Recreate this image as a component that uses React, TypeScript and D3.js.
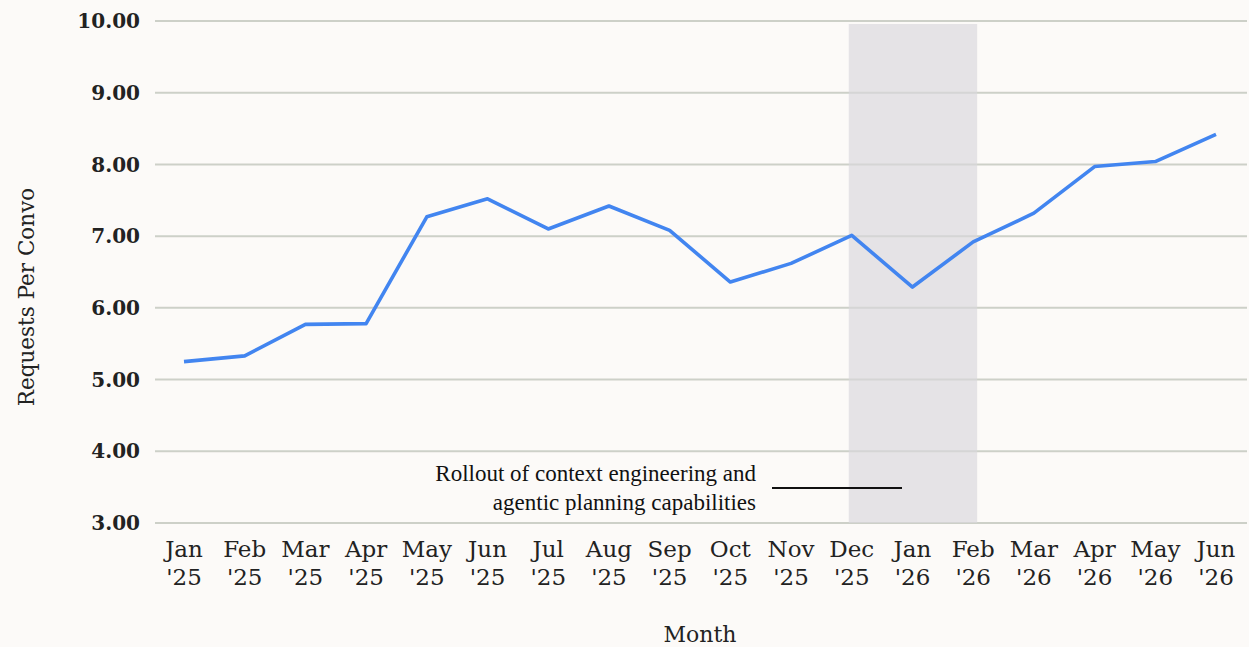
import React from "react";
import * as d3 from "d3";

const months = ["Jan", "Feb", "Mar", "Apr", "May", "Jun", "Jul", "Aug", "Sep", "Oct", "Nov", "Dec", "Jan", "Feb", "Mar", "Apr", "May", "Jun"];
const years = ["'25", "'25", "'25", "'25", "'25", "'25", "'25", "'25", "'25", "'25", "'25", "'25", "'26", "'26", "'26", "'26", "'26", "'26"];
const values = [5.25, 5.33, 5.77, 5.78, 7.27, 7.52, 7.1, 7.42, 7.08, 6.36, 6.62, 7.01, 6.29, 6.92, 7.32, 7.97, 8.04, 8.42];
const yTicks = [3, 4, 5, 6, 7, 8, 9, 10];
const shadeStart = 11;
const shadeEnd = 13;
const annotationLines = ["Rollout of context engineering and", "agentic planning capabilities"];

const W = 1249;
const H = 647;
const FONT = "'DejaVu Serif', 'Liberation Serif', serif";

export default function App() {
  const idx = d3.range(months.length);
  const x = d3.scalePoint<number>().domain(idx).range([184, 1216]);
  const y = d3.scaleLinear().domain([3, 10]).range([523, 21]);
  const line = d3
    .line<number>()
    .x((_, i) => x(i) as number)
    .y((d) => y(d));
  const sx0 = (x(shadeStart) as number) - 3;
  const sx1 = (x(shadeEnd) as number) + 4;

  return (
    <svg
      width={W}
      height={H}
      style={{ position: "absolute", left: 0, top: 0, background: "#fcfaf8" }}
    >
      <rect x={0} y={0} width={W} height={H} fill="#fcfaf8" />
      {yTicks.map((t) => (
        <g key={t}>
          <line x1={155} x2={1247} y1={y(t)} y2={y(t)} stroke="#cdd0c8" strokeWidth={2} />
          <text
            x={140}
            y={y(t)}
            dy="0.36em"
            textAnchor="end"
            fontFamily={FONT}
            fontSize={20}
            fontWeight="bold"
            fill="#222"
          >
            {t.toFixed(2)}
          </text>
        </g>
      ))}
      <rect x={sx0} y={y(10) + 3} width={sx1 - sx0} height={y(3) - y(10) - 3} fill="#d9d7db" opacity={0.65} />
      <path d={line(values) || ""} fill="none" stroke="#4285f0" strokeWidth={3.6} strokeLinejoin="round" />
      {idx.map((i) => (
        <text
          key={i}
          x={x(i) as number}
          textAnchor="middle"
          fontFamily={FONT}
          fontSize={23}
          fill="#222"
        >
          <tspan x={x(i) as number} y={557}>{months[i]}</tspan>
          <tspan x={x(i) as number} y={585}>{years[i]}</tspan>
        </text>
      ))}
      <text x={700} y={642} textAnchor="middle" fontFamily={FONT} fontSize={22} fill="#222">
        Month
      </text>
      <text
        transform={`translate(34, ${297}) rotate(-90)`}
        textAnchor="middle"
        fontFamily={FONT}
        fontSize={21.5}
        fill="#222"
      >
        Requests Per Convo
      </text>
      {annotationLines.map((s, i) => (
        <text
          key={i}
          x={756}
          y={481 + i * 28.5}
          textAnchor="end"
          fontFamily="'Liberation Serif', serif"
          fontSize={23}
          fill="#111"
        >
          {s}
        </text>
      ))}
      <line x1={772} x2={902} y1={488} y2={488} stroke="#111" strokeWidth={2} />
    </svg>
  );
}
